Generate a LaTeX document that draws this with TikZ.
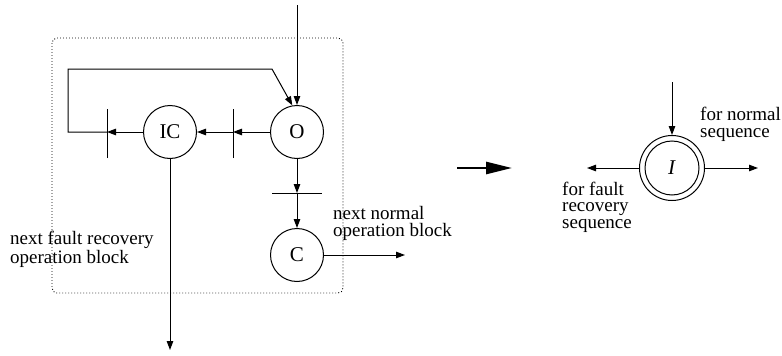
\documentclass[tikz,border=0pt]{standalone}
\usepackage{fontspec}
\setmainfont{Liberation Serif}
\usetikzlibrary{arrows.meta}
\tikzset{
  state/.style={circle, draw, line width=1pt, minimum size=53pt, inner sep=0pt,
    font=\fontsize{21}{21}\selectfont},
  lbl/.style={anchor=base west, inner sep=0pt, align=left,
    font=\fontsize{19}{16.3}\selectfont},
  flow/.style={line width=1pt, -{Triangle[length=9pt,width=6.5pt]}},
  plain/.style={line width=1pt},
  bigflow/.style={line width=2.6pt, -{Triangle[length=26pt,width=12pt]}},
}
\begin{document}
\begin{tikzpicture}[x=1pt, y=-1pt]
\useasboundingbox (0,0) rectangle (782,356);

% dotted frame of the operation block
\draw[line width=0.9pt, dash pattern=on 0.9pt off 2.1pt, rounded corners=5pt]
  (52,38) rectangle (343,293);

% states of the block
\node[state] (O)  at (297,132) {O};
\node[state] (IC) at (170,132) {IC};
\node[state] (C)  at (297,255) {C};

% transition bars and free ends
\coordinate (barL) at (107,132);
\coordinate (barM) at (233,132);
\coordinate (barB) at (297,193);
\coordinate (loopA) at (68,69);
\coordinate (loopB) at (272,69);
\coordinate (inO)  at (297,5);
\coordinate (outC) at (405,255);
\coordinate (outIC) at (170,350);

\draw[plain] ([yshift=-26pt]barL) -- ([yshift=23pt]barL);
\draw[plain] ([yshift=-26pt]barM) -- ([yshift=23pt]barM);
\draw[plain] ([xshift=-25pt]barB) -- ([xshift=25pt]barB);

% connectors
\draw[flow] (inO) -- (O.north);
\draw[flow] (O) -- (barM);
\draw[flow] (barM) -- (IC);
\draw[flow] (IC) -- (barL);
\draw[flow] (barL) -| (loopA) -- (loopB) -- (O.100);
\draw[flow] (O) -- (barB);
\draw[flow] (barB) -- (C);
\draw[flow] (C) -- (outC);
\draw[flow] (IC) -- (outIC);

% labels of the block (anchored at the baseline of the last line)
\node[lbl] (nn) at (333,236) {next normal\\operation block};
\node[lbl] (nf) at (10,263) {next fault recovery\\operation block};

% reduction arrow
\coordinate (bigA) at (457,168);
\coordinate (bigB) at (512,168);
\draw[bigflow] (bigA) -- (bigB);

% reduced state with double ring
\node[circle, draw, line width=1pt, minimum size=65pt, inner sep=0pt,
      font=\fontsize{21}{21}\selectfont] (I) at (672,168) {\textit{I}};
\node[circle, draw, line width=1pt, minimum size=54pt, inner sep=0pt] (Iin) at (I.center) {};

\coordinate (Itop) at (672,82);
\coordinate (Iright) at (758,168);
\coordinate (Ileft) at (587,168);
\draw[flow] (Itop) -- (I.north);
\draw[flow] (I) -- (Iright);
\draw[flow] (I) -- (Ileft);

\node[lbl] (fn) at (700,137) {for normal\\sequence};
\node[lbl] (ff) at (562,228) {for fault\\recovery\\sequence};
\end{tikzpicture}
\end{document}
